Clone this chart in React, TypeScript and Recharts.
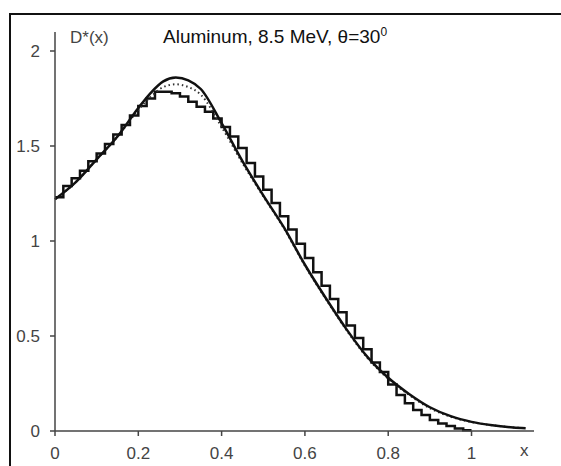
import { LineChart, Line, XAxis, YAxis } from "recharts";

// smooth model curve (solid)
const solidX = [0, 0.05, 0.1, 0.15, 0.2, 0.23, 0.26, 0.29, 0.32, 0.35, 0.4, 0.45, 0.5, 0.55, 0.6, 0.65, 0.7, 0.75, 0.8, 0.85, 0.9, 0.95, 1.0, 1.05, 1.1, 1.13];
const solidY = [1.22, 1.31, 1.43, 1.55, 1.7, 1.78, 1.84, 1.86, 1.845, 1.8, 1.62, 1.42, 1.24, 1.07, 0.875, 0.7, 0.535, 0.39, 0.28, 0.195, 0.125, 0.078, 0.048, 0.03, 0.019, 0.015];

// second curve (dotted), same x grid
const dottedY = [1.22, 1.31, 1.43, 1.55, 1.69, 1.76, 1.81, 1.825, 1.81, 1.77, 1.6, 1.41, 1.235, 1.065, 0.87, 0.695, 0.53, 0.385, 0.275, 0.19, 0.12, 0.075, 0.047, 0.03, 0.019, 0.015];

// histogram, bins of width 0.02 starting at 0
const BIN = 0.02;
const histY = [
  1.23, 1.29, 1.33, 1.37, 1.42, 1.46, 1.51, 1.56, 1.61, 1.66,
  1.71, 1.75, 1.785, 1.785, 1.777, 1.76, 1.733, 1.707, 1.68, 1.645,
  1.6, 1.55, 1.49, 1.41, 1.34, 1.27, 1.2, 1.13, 1.06, 0.985,
  0.91, 0.835, 0.765, 0.695, 0.625, 0.555, 0.49, 0.43, 0.36, 0.31,
  0.245, 0.19, 0.146, 0.11, 0.084, 0.058, 0.04, 0.026, 0.013, 0.004,
];

const xTicks = [0, 0.2, 0.4, 0.6, 0.8, 1];
const yTicks = [0, 0.5, 1, 1.5, 2];

const solidData = solidX.map((x, i) => ({ x, y: solidY[i] }));
const dottedData = solidX.map((x, i) => ({ x, y: dottedY[i] }));
const histData = [
  ...histY.map((y, i) => ({ x: +(i * BIN).toFixed(2), y })),
  { x: +(histY.length * BIN).toFixed(2), y: histY[histY.length - 1] },
];

const font = "'Liberation Sans', Arial, sans-serif";
const tick = { fontSize: 17, fill: "#444", fontFamily: font };

export default function App() {
  return (
    <div
      style={{
        position: "fixed",
        left: 0,
        top: 0,
        width: 561,
        height: 466,
        overflow: "hidden",
        background: "#fff",
        fontFamily: font,
      }}
    >
      <div
        style={{
          position: "absolute",
          left: 9,
          top: 13,
          width: 600,
          height: 500,
          border: "2px solid #111",
        }}
      />
      <div style={{ position: "absolute", left: 0, top: 0 }}>
        <LineChart
          width={561}
          height={466}
          margin={{ top: 32, right: 27, bottom: 0, left: 0 }}
        >
          <XAxis
            type="number"
            dataKey="x"
            domain={[0, 1.15]}
            ticks={xTicks}
            tickFormatter={(v) => String(v)}
            allowDuplicatedCategory={false}
            height={35}
            tickSize={5}
            tickMargin={11}
            stroke="#444"
            strokeWidth={1.5}
            tick={tick}
          />
          <YAxis
            type="number"
            dataKey="y"
            domain={[0, 2.1]}
            ticks={yTicks}
            tickFormatter={(v) => String(v)}
            width={55}
            tickSize={5}
            tickMargin={10}
            stroke="#444"
            strokeWidth={1.5}
            tick={tick}
          />
          <Line
            data={histData}
            dataKey="y"
            type="stepAfter"
            stroke="#111"
            strokeWidth={2.5}
            dot={false}
            isAnimationActive={false}
          />
          <Line
            data={dottedData}
            dataKey="y"
            type="monotone"
            stroke="#333"
            strokeWidth={2}
            strokeDasharray="1.5 3"
            dot={false}
            isAnimationActive={false}
          />
          <Line
            data={solidData}
            dataKey="y"
            type="monotone"
            stroke="#111"
            strokeWidth={2.5}
            dot={false}
            isAnimationActive={false}
          />
        </LineChart>
      </div>
      <div style={{ position: "absolute", left: 70, top: 28, fontSize: 17, color: "#444", whiteSpace: "nowrap" }}>
        D*(x)
      </div>
      <div style={{ position: "absolute", left: 163, top: 26, fontSize: 19, color: "#111", whiteSpace: "nowrap" }}>
        Aluminum, 8.5 MeV, θ=30<sup style={{ fontSize: 12, verticalAlign: "7px", lineHeight: 0 }}>0</sup>
      </div>
      <div style={{ position: "absolute", left: 520, top: 441, fontSize: 17, color: "#444" }}>x</div>
    </div>
  );
}
